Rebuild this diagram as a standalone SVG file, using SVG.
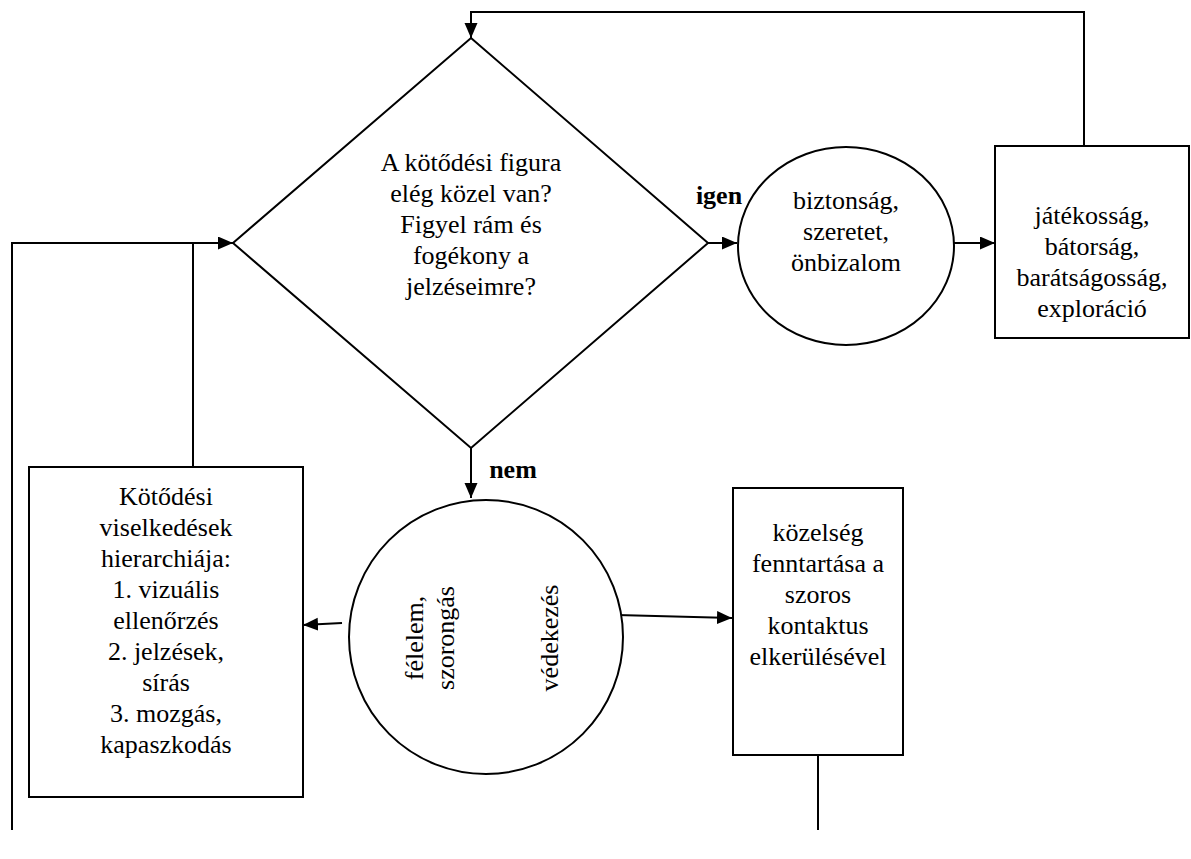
<svg xmlns="http://www.w3.org/2000/svg" width="1191" height="859" viewBox="0 0 1191 859">
<defs>
<marker id="a" markerUnits="userSpaceOnUse" markerWidth="16" markerHeight="14" refX="15" refY="6.5" orient="auto">
<path d="M0,0 L15,6.5 L0,13 z" fill="#000"/>
</marker>
</defs>
<rect width="1191" height="859" fill="#fff"/>
<g id="connectors" fill="none" stroke="#000" stroke-width="2">
<polyline points="1084,146 1084,12 471,12 471,38" marker-end="url(#a)"/>
<line x1="702" y1="243" x2="737" y2="243" marker-end="url(#a)"/>
<line x1="954" y1="243" x2="995" y2="243" marker-end="url(#a)"/>
<line x1="471" y1="448" x2="471" y2="498" marker-end="url(#a)"/>
<polyline points="12,830 12,243 233,243" marker-end="url(#a)"/>
<line x1="193" y1="467" x2="193" y2="243"/>
<line x1="342" y1="623" x2="303" y2="625" marker-end="url(#a)"/>
<line x1="617" y1="615" x2="732" y2="618" marker-end="url(#a)"/>
<line x1="818" y1="755" x2="818" y2="830"/>
</g>
<g id="decision">
<polygon fill="#fff" stroke="#000" stroke-width="2" points="471,38 708,243 471,448 233,243"/>
<text font-family="Liberation Serif" font-size="26" text-anchor="middle" x="471" y="171">A kötődési figura</text>
<text font-family="Liberation Serif" font-size="26" text-anchor="middle" x="471" y="202">elég közel van?</text>
<text font-family="Liberation Serif" font-size="26" text-anchor="middle" x="471" y="233">Figyel rám és</text>
<text font-family="Liberation Serif" font-size="26" text-anchor="middle" x="471" y="264">fogékony a</text>
<text font-family="Liberation Serif" font-size="26" text-anchor="middle" x="471" y="295">jelzéseimre?</text>
</g>
<g id="label-igen"><text font-family="Liberation Serif" font-size="26" font-weight="bold" text-anchor="middle" x="719" y="204">igen</text></g>
<g id="label-nem"><text font-family="Liberation Serif" font-size="26" font-weight="bold" text-anchor="middle" x="513" y="478">nem</text></g>
<g id="security">
<ellipse fill="#fff" stroke="#000" stroke-width="2" cx="846" cy="246" rx="108" ry="99"/>
<text font-family="Liberation Serif" font-size="26" text-anchor="middle" x="846" y="209">biztonság,</text>
<text font-family="Liberation Serif" font-size="26" text-anchor="middle" x="846" y="240">szeretet,</text>
<text font-family="Liberation Serif" font-size="26" text-anchor="middle" x="846" y="271">önbizalom</text>
</g>
<g id="exploration">
<rect fill="#fff" stroke="#000" stroke-width="2" x="995" y="146" width="194" height="192"/>
<text font-family="Liberation Serif" font-size="26" text-anchor="middle" x="1092" y="224">játékosság,</text>
<text font-family="Liberation Serif" font-size="26" text-anchor="middle" x="1092" y="255">bátorság,</text>
<text font-family="Liberation Serif" font-size="26" text-anchor="middle" x="1092" y="286">barátságosság,</text>
<text font-family="Liberation Serif" font-size="26" text-anchor="middle" x="1092" y="317">exploráció</text>
</g>
<g id="fear">
<circle fill="#fff" stroke="#000" stroke-width="2" cx="486" cy="637" r="137"/>
<g transform="translate(486,638) rotate(-90)">
<text font-family="Liberation Serif" font-size="26" text-anchor="middle" x="0" y="-63">félelem,</text>
<text font-family="Liberation Serif" font-size="26" text-anchor="middle" x="0" y="-32">szorongás</text>
<text font-family="Liberation Serif" font-size="26" text-anchor="middle" x="0" y="72">védekezés</text>
</g>
</g>
<g id="hierarchy">
<rect fill="#fff" stroke="#000" stroke-width="2" x="29" y="467" width="274" height="330"/>
<text font-family="Liberation Serif" font-size="26" text-anchor="middle" x="166" y="505">Kötődési</text>
<text font-family="Liberation Serif" font-size="26" text-anchor="middle" x="166" y="536">viselkedések</text>
<text font-family="Liberation Serif" font-size="26" text-anchor="middle" x="166" y="567">hierarchiája:</text>
<text font-family="Liberation Serif" font-size="26" text-anchor="middle" x="166" y="598">1. vizuális</text>
<text font-family="Liberation Serif" font-size="26" text-anchor="middle" x="166" y="629">ellenőrzés</text>
<text font-family="Liberation Serif" font-size="26" text-anchor="middle" x="166" y="660">2. jelzések,</text>
<text font-family="Liberation Serif" font-size="26" text-anchor="middle" x="166" y="691">sírás</text>
<text font-family="Liberation Serif" font-size="26" text-anchor="middle" x="166" y="722">3. mozgás,</text>
<text font-family="Liberation Serif" font-size="26" text-anchor="middle" x="166" y="753">kapaszkodás</text>
</g>
<g id="proximity">
<rect fill="#fff" stroke="#000" stroke-width="2" x="733" y="488" width="170" height="267"/>
<text font-family="Liberation Serif" font-size="26" text-anchor="middle" x="818" y="541">közelség</text>
<text font-family="Liberation Serif" font-size="26" text-anchor="middle" x="818" y="572">fenntartása a</text>
<text font-family="Liberation Serif" font-size="26" text-anchor="middle" x="818" y="603">szoros</text>
<text font-family="Liberation Serif" font-size="26" text-anchor="middle" x="818" y="634">kontaktus</text>
<text font-family="Liberation Serif" font-size="26" text-anchor="middle" x="818" y="665">elkerülésével</text>
</g>
</svg>
